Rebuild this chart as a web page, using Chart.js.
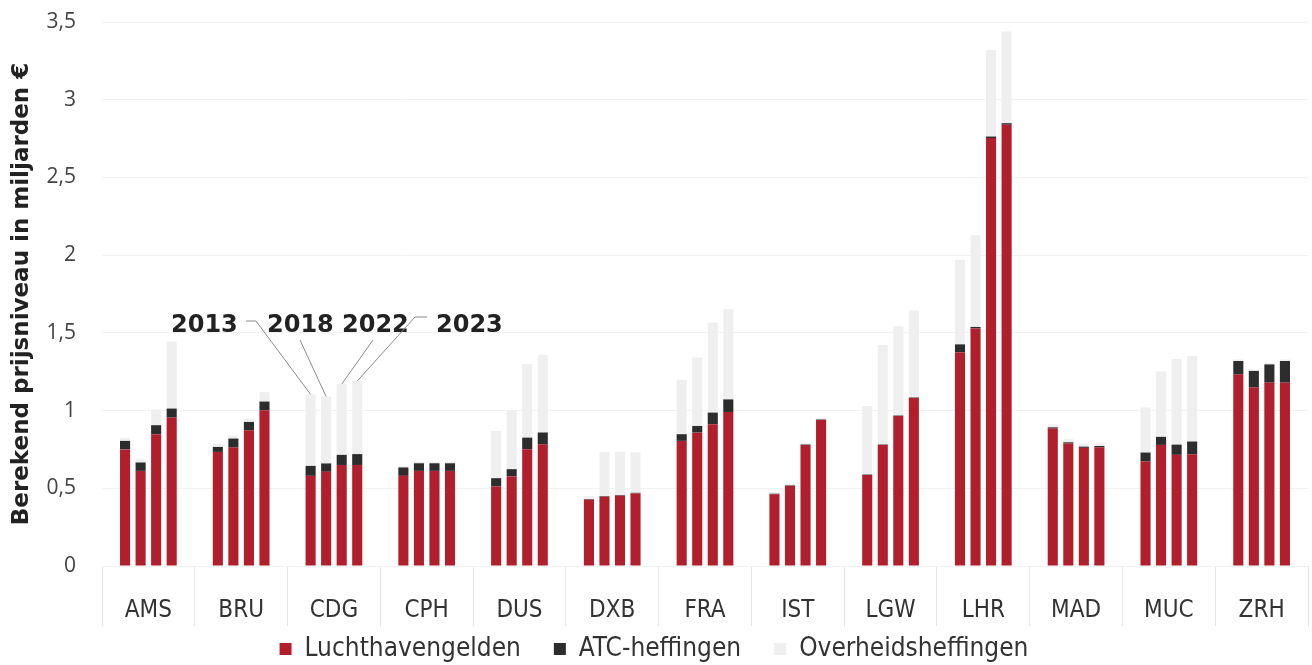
<!doctype html>
<html lang="nl">
  <head>
    <meta charset="utf-8">
    <title>Berekend prijsniveau per luchthaven</title>
    <script src="https://cdn.jsdelivr.net/npm/chart.js"></script>
    <style>
      html, body { margin: 0; padding: 0; background: #fff; }
      #wrap { width: 1312px; height: 665px; }
    </style>
  </head>
  <body>
    <div id="wrap"><canvas id="prijsChart" width="1312" height="665"></canvas></div>
    <script>
      const airports = ['AMS', 'BRU', 'CDG', 'CPH', 'DUS', 'DXB', 'FRA', 'IST', 'LGW', 'LHR', 'MAD', 'MUC', 'ZRH'];
      const years = ['2013', '2018', '2022', '2023'];
      const yTicks = [0, 0.5, 1, 1.5, 2, 2.5, 3, 3.5];

      // Luchthavengelden (miljard euro)
      const lucht2013 = [0.75, 0.734, 0.58, 0.58, 0.512, 0.426, 0.805, 0.462, 0.586, 1.376, 0.884, 0.672, 1.233];
      const lucht2018 = [0.612, 0.762, 0.606, 0.612, 0.576, 0.445, 0.858, 0.516, 0.779, 1.528, 0.788, 0.779, 1.148];
      const lucht2022 = [0.848, 0.873, 0.65, 0.612, 0.751, 0.452, 0.912, 0.779, 0.965, 2.753, 0.76, 0.715, 1.18];
      const lucht2023 = [0.955, 1.002, 0.65, 0.612, 0.783, 0.467, 0.991, 0.94, 1.081, 2.839, 0.764, 0.719, 1.18];

      // ATC-heffingen
      const atc2013 = [0.055, 0.032, 0.064, 0.054, 0.053, 0.004, 0.043, 0.003, 0.003, 0.05, 0.008, 0.058, 0.086];
      const atc2018 = [0.054, 0.058, 0.054, 0.049, 0.047, 0.004, 0.043, 0.003, 0.003, 0.01, 0.008, 0.052, 0.107];
      const atc2022 = [0.058, 0.054, 0.065, 0.049, 0.075, 0.004, 0.075, 0.003, 0.003, 0.01, 0.008, 0.066, 0.117];
      const atc2023 = [0.058, 0.056, 0.07, 0.049, 0.076, 0.004, 0.081, 0.003, 0.003, 0.01, 0.008, 0.082, 0.139];

      // Overheidsheffingen
      const overheid2013 = [0.02, 0.02, 0.46, 0.01, 0.305, 0.02, 0.35, 0.01, 0.44, 0.544, 0.02, 0.29, 0.01];
      const overheid2018 = [0.02, 0.02, 0.43, 0.01, 0.377, 0.285, 0.44, 0.01, 0.64, 0.59, 0.02, 0.42, 0.01];
      const overheid2022 = [0.1, 0.02, 0.455, 0.01, 0.474, 0.28, 0.58, 0.01, 0.575, 0.557, 0.02, 0.55, 0.01];
      const overheid2023 = [0.43, 0.06, 0.47, 0.01, 0.5, 0.26, 0.58, 0.01, 0.56, 0.59, 0.02, 0.55, 0.01];

      const luchtByYear = [lucht2013, lucht2018, lucht2022, lucht2023];
      const atcByYear = [atc2013, atc2018, atc2022, atc2023];
      const overheidByYear = [overheid2013, overheid2018, overheid2022, overheid2023];

      const RED = '#b21f2c';
      const DARK = '#2d2d2d';
      const LIGHT = '#efefef';
      const NARROW = '"DejaVu Sans Condensed", "Liberation Sans Narrow", "Liberation Sans"';

      const datasets = [];
      years.forEach((yr, i) => {
        datasets.push({ label: 'Luchthavengelden', stack: yr, data: luchtByYear[i], backgroundColor: RED });
        datasets.push({ label: 'ATC-heffingen', stack: yr, data: atcByYear[i], backgroundColor: DARK });
        datasets.push({ label: 'Overheidsheffingen', stack: yr, data: overheidByYear[i], backgroundColor: LIGHT });
      });

      // year captions with leader lines pointing at the CDG group
      const yearCallouts = {
        id: 'yearCallouts',
        afterDatasetsDraw(chart) {
          const ctx = chart.ctx;
          const cdg = airports.indexOf('CDG');
          const tops = years.map((yr, i) => chart.getDatasetMeta(i * 3 + 2).data[cdg]);
          ctx.save();
          ctx.font = 'bold 24px "DejaVu Sans"';
          ctx.fillStyle = '#222';
          ctx.textBaseline = 'alphabetic';
          ctx.textAlign = 'left';
          ctx.fillText('2013', 171, 332);
          ctx.fillText('2018', 267, 332);
          ctx.fillText('2022', 342, 332);
          ctx.fillText('2023', 436, 332);

          ctx.strokeStyle = '#8a8a8a';
          ctx.lineWidth = 1;
          const paths = [
            [[246, 321], [256, 321], [tops[0].x, tops[0].y]],
            [[300, 340], [tops[1].x, tops[1].y]],
            [[373, 340], [tops[2].x, tops[2].y]],
            [[427, 317], [415, 317], [tops[3].x, tops[3].y]]
          ];
          paths.forEach(p => {
            ctx.beginPath();
            ctx.moveTo(p[0][0], p[0][1]);
            for (let k = 1; k < p.length; k++) ctx.lineTo(p[k][0], p[k][1]);
            ctx.stroke();
          });
          ctx.restore();
        }
      };

      // push the legend row a little lower than the layout puts it
      const legendNudge = {
        id: 'legendNudge',
        afterLayout(chart) {
          chart.legend.top += 7;
          chart.legend.bottom += 7;
        }
      };

      const ctx = document.getElementById('prijsChart').getContext('2d');
      new Chart(ctx, {
        type: 'bar',
        data: { labels: airports, datasets: datasets },
        plugins: [yearCallouts, legendNudge],
        options: {
          responsive: false,
          animation: false,
          layout: { padding: { top: 22, right: 4, left: 0, bottom: 0 } },
          datasets: {
            bar: { categoryPercentage: 0.67, barPercentage: 0.65 }
          },
          plugins: {
            tooltip: { enabled: false },
            legend: {
              position: 'bottom',
              labels: {
                filter: item => item.datasetIndex < 3,
                boxWidth: 12,
                boxHeight: 12,
                padding: 33,
                color: '#333',
                font: { family: NARROW, size: 26 }
              }
            }
          },
          scales: {
            x: {
              stacked: true,
              grid: {
                offset: true,
                drawOnChartArea: false,
                drawTicks: true,
                tickLength: 60,
                color: '#e4e4e4'
              },
              border: { display: false },
              ticks: {
                padding: -30,
                color: '#333',
                font: { family: NARROW, size: 24 }
              },
              afterFit: s => {
                s.height = 30;
                // labels sit below the fitted box, so don't clip them to it
                s._computeLabelArea = () => undefined;
              }
            },
            y: {
              stacked: true,
              min: 0,
              max: 3.5,
              afterBuildTicks: s => { s.ticks = yTicks.map(v => ({ value: v })); },
              grid: { color: '#f2f2f2', drawTicks: true, tickLength: 24, tickColor: 'rgba(0,0,0,0)' },
              border: { display: false },
              ticks: {
                padding: 2,
                color: '#444',
                font: { family: '"Open Sans"', size: 21 },
                callback: v => String(v).replace('.', ',')
              },
              title: {
                display: true,
                text: 'Berekend prijsniveau in miljarden €',
                color: '#222',
                font: { family: '"DejaVu Sans"', size: 23, weight: 'bold' },
                padding: { top: 8, bottom: 0 }
              },
              afterFit: s => { s.width = 102; }
            }
          }
        }
      });
    </script>
  </body>
</html>
